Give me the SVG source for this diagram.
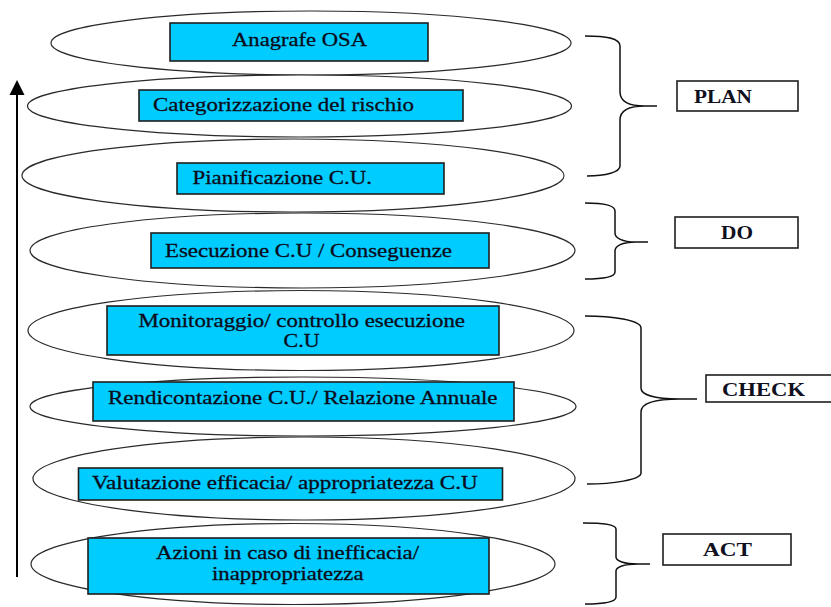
<svg xmlns="http://www.w3.org/2000/svg" width="831" height="607" viewBox="0 0 831 607">
<defs>
<style>
.ell{fill:#ffffff;stroke:#2a2a2a;stroke-width:1.2}
.box{fill:#00ccff;stroke:#1e1e1e;stroke-width:1.6}
.t{font-family:"Liberation Serif","Times New Roman",serif;font-size:19px;fill:#0b0b1a;stroke:#0b0b1a;stroke-width:0.3}
.ts{font-family:"Liberation Serif","Times New Roman",serif;font-size:18px;fill:#0b0b1a;stroke:#0b0b1a;stroke-width:0.3}
.ph{font-family:"Liberation Serif","Times New Roman",serif;font-size:19px;font-weight:bold;fill:#10101e}
.pbox{fill:#ffffff;stroke:#1e1e1e;stroke-width:1.6}
.brace{fill:none;stroke:#111;stroke-width:1.5}
.arrow{fill:none;stroke:#000;stroke-width:2}
</style>
</defs>

<g id="connectors">
<line class="arrow" x1="17" y1="577" x2="17" y2="95"/>
<path d="M17,80 L24.5,95 L9.5,95 Z" fill="#000"/>
<path class="brace" d="M585,36 C606,36 620,38 620,46 L620,92 C620,101 628,106 645,106 L657,106 M645,106 C628,106 620,111 620,120 L620,166 C620,172 606,176 587,176"/>
<path class="brace" d="M585,203 C603,203 615,205 615,211 L615,233 C615,238 622,242 636,242 L648,242 M636,242 C622,242 615,246 615,251 L615,272 C615,277 603,279 585,279"/>
<path class="brace" d="M585,316 C612,316 641,320 641,328 L641,388 C641,394 652,399 680,399 L697,399 M680,399 C652,399 641,404 641,412 L641,473 C641,480 612,484 587,484"/>
<path class="brace" d="M583,523 C602,523 616,524 616,529 L616,557 C616,561 624,564 638,564 L650,564 M638,564 C624,564 616,567 616,571 L616,597 C616,602 603,604 585,604"/>
</g>

<g id="n1">
<ellipse class="ell" cx="311" cy="43" rx="260" ry="32"/>
<rect class="box" x="170" y="23" width="258" height="38"/>
<text class="t" x="232" y="46" textLength="135" lengthAdjust="spacingAndGlyphs">Anagrafe OSA</text>
</g>
<g id="n2">
<ellipse class="ell" cx="299.5" cy="106" rx="272" ry="31"/>
<rect class="box" x="139" y="90" width="324" height="31"/>
<text class="t" x="153" y="111" textLength="261" lengthAdjust="spacingAndGlyphs">Categorizzazione del rischio</text>
</g>
<g id="n3">
<ellipse class="ell" cx="293" cy="175.5" rx="271" ry="36.5"/>
<rect class="box" x="177" y="163" width="267" height="31"/>
<text class="t" x="192.5" y="184" textLength="179.5" lengthAdjust="spacingAndGlyphs">Pianificazione C.U.</text>
</g>
<g id="n4">
<ellipse class="ell" cx="302.5" cy="250.5" rx="272.5" ry="37.5"/>
<rect class="box" x="151" y="233" width="338" height="35"/>
<text class="t" x="165" y="257" textLength="287" lengthAdjust="spacingAndGlyphs">Esecuzione C.U / Conseguenze</text>
</g>
<g id="n5">
<ellipse class="ell" cx="301" cy="330.5" rx="273" ry="40"/>
<rect class="box" x="107" y="306" width="392" height="49"/>
<text class="ts" x="138.5" y="327" textLength="326.5" lengthAdjust="spacingAndGlyphs">Monitoraggio/ controllo esecuzione</text>
<text class="ts" x="283.5" y="347" textLength="36" lengthAdjust="spacingAndGlyphs">C.U</text>
</g>
<g id="n6">
<ellipse class="ell" cx="303" cy="406.5" rx="273" ry="29.5"/>
<rect class="box" x="93" y="382" width="421" height="39"/>
<text class="ts" x="108" y="404" textLength="389.5" lengthAdjust="spacingAndGlyphs">Rendicontazione C.U./ Relazione Annuale</text>
</g>
<g id="n7">
<ellipse class="ell" cx="304" cy="478.5" rx="271" ry="41.5"/>
<rect class="box" x="78.5" y="468" width="424" height="32"/>
<text class="ts" x="92" y="489" textLength="385.6" lengthAdjust="spacingAndGlyphs">Valutazione efficacia/ appropriatezza C.U</text>
</g>
<g id="n8">
<ellipse class="ell" cx="293" cy="564" rx="262" ry="40.5"/>
<rect class="box" x="88" y="538" width="401" height="56"/>
<text class="ts" x="156" y="559" textLength="263" lengthAdjust="spacingAndGlyphs">Azioni in caso di inefficacia/</text>
<text class="ts" x="212" y="580" textLength="151.5" lengthAdjust="spacingAndGlyphs">inappropriatezza</text>
</g>

<g id="plan">
<rect class="pbox" x="677" y="81" width="121" height="30"/>
<text class="ph" x="694" y="103" textLength="58" lengthAdjust="spacingAndGlyphs">PLAN</text>
</g>
<g id="do">
<rect class="pbox" x="675" y="217" width="123" height="31"/>
<text class="ph" x="721" y="239" textLength="32" lengthAdjust="spacingAndGlyphs">DO</text>
</g>
<g id="check">
<rect class="pbox" x="706" y="375" width="130" height="27"/>
<text class="ph" x="722" y="396" textLength="83" lengthAdjust="spacingAndGlyphs">CHECK</text>
</g>
<g id="act">
<rect class="pbox" x="663" y="534" width="128" height="31"/>
<text class="ph" x="703" y="556" textLength="49" lengthAdjust="spacingAndGlyphs">ACT</text>
</g>
</svg>
